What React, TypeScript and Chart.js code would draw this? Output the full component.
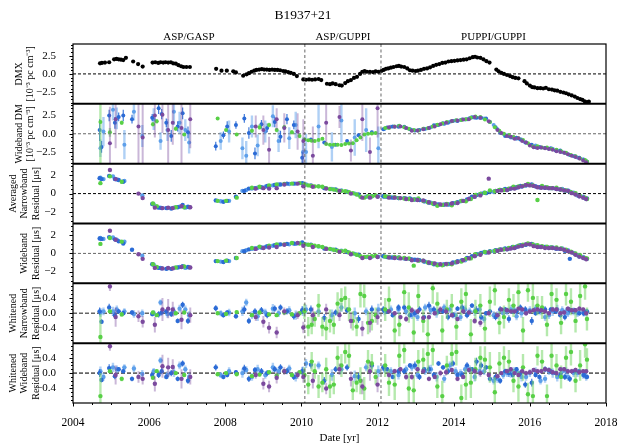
import { useEffect, useRef } from 'react';
import { Chart, registerables } from 'chart.js';

Chart.register(...registerables);

const FONT = '"Liberation Serif", "Times New Roman", serif';

// ---------- axes / labels ----------
const xTicks = [2004, 2006, 2008, 2010, 2012, 2014, 2016, 2018];
const eraBounds = [2004, 2010.09, 2012.09, 2018];
const eraLabels = ['ASP/GASP', 'ASP/GUPPI', 'PUPPI/GUPPI'];
const titleText = 'B1937+21';

// ---------- panel 1: DMX ----------
const dmxDates = [
  2004.71, 2004.76, 2004.84, 2004.95, 2005.08, 2005.14, 2005.2, 2005.26, 2005.32, 2005.39, 2005.58, 2005.71, 2005.83,
  2006.09, 2006.16, 2006.24, 2006.3, 2006.37, 2006.43, 2006.5, 2006.57, 2006.63, 2006.7, 2006.77, 2006.84, 2006.9, 2006.98, 2007.07,
  2007.76, 2007.9, 2008.04, 2008.21, 2008.28,
  2008.47, 2008.56, 2008.62, 2008.69, 2008.76, 2008.82, 2008.89, 2008.96, 2009.02, 2009.09, 2009.16, 2009.23, 2009.3, 2009.37, 2009.44, 2009.52, 2009.58, 2009.65, 2009.72, 2009.8, 2009.88,
  2010.05, 2010.12, 2010.2, 2010.28, 2010.36, 2010.45, 2010.52, 2010.67, 2010.75, 2010.82, 2010.9, 2011.0, 2011.06, 2011.15, 2011.22, 2011.3, 2011.38, 2011.46, 2011.54, 2011.6, 2011.66, 2011.72, 2011.8, 2011.88, 2011.95, 2012.02,
  2012.1, 2012.16, 2012.22, 2012.28, 2012.35, 2012.42, 2012.5, 2012.56, 2012.62, 2012.7, 2012.78, 2012.85, 2012.92, 2013.0, 2013.06, 2013.14, 2013.22, 2013.3, 2013.38, 2013.46, 2013.54, 2013.62, 2013.7, 2013.78, 2013.86, 2013.94, 2014.02, 2014.1, 2014.18, 2014.26, 2014.34, 2014.42, 2014.5, 2014.56, 2014.62, 2014.7, 2014.78, 2014.86, 2014.94,
  2015.12, 2015.18, 2015.25, 2015.32, 2015.4, 2015.48, 2015.55, 2015.62, 2015.7,
  2015.86, 2015.92, 2016.0, 2016.06, 2016.12, 2016.2, 2016.28, 2016.35, 2016.42, 2016.5, 2016.58, 2016.65, 2016.72, 2016.8, 2016.88, 2016.95, 2017.02, 2017.1, 2017.18, 2017.25, 2017.32, 2017.38, 2017.44, 2017.5, 2017.55,
];
const dmxValues = [
  1.45, 1.5, 1.55, 1.6, 2.0, 2.05, 2.0, 1.95, 1.9, 2.2, 1.7, 1.35, 1.0,
  1.55, 1.6, 1.5, 1.6, 1.55, 1.6, 1.55, 1.6, 1.45, 1.4, 1.2, 1.05, 0.95, 0.95, 0.95,
  0.7, 0.45, 0.45, 0.35, 0.2,
  -0.25, -0.05, 0.1, 0.3, 0.45, 0.55, 0.6, 0.65, 0.6, 0.6, 0.55, 0.6, 0.55, 0.55, 0.5, 0.4, 0.35, 0.25, 0.15, 0.0, -0.3,
  -0.75, -0.8, -0.75, -0.8, -0.75, -0.7, -0.85, -1.35, -1.4, -1.3, -1.4, -1.55, -1.6, -1.25, -1.0, -0.85, -0.55, -0.4, 0.0, 0.3, 0.4, 0.3, 0.3, 0.25, 0.35, 0.3,
  0.4, 0.55, 0.7, 0.75, 0.85, 0.95, 1.05, 1.1, 1.0, 0.95, 0.75, 0.5, 0.45, 0.4, 0.45, 0.55, 0.7, 0.75, 0.9, 1.1, 1.25, 1.35, 1.5, 1.55, 1.7, 1.75, 1.8, 1.85, 1.9, 1.95, 2.0, 2.15, 2.3, 2.35, 2.25, 2.2, 2.0, 1.75, 1.55,
  0.6, 0.35, 0.15, 0.0, -0.15, -0.3, -0.45, -0.55, -0.6,
  -1.0, -1.3, -1.6, -1.8, -1.85, -1.95, -1.95, -2.0, -1.9, -2.1, -2.15, -2.25, -2.3, -2.45, -2.55, -2.65, -2.8, -2.95, -3.1, -3.3, -3.45, -3.55, -3.75, -3.85, -3.8,
];

// ---------- green receiver ----------
const greenDates = [
  2004.72, 2004.97, 2005.28, 2006.1, 2006.2, 2006.7, 2006.92, 2007.8, 2008.02, 2008.3, 2008.7, 2008.9, 2009.15, 2009.35, 2009.55, 2009.75, 2009.95,
  2010.18, 2010.35, 2010.55, 2010.75, 2010.95, 2011.15, 2011.35, 2011.55, 2011.75, 2011.95,
  2012.2, 2012.45, 2012.7, 2012.95, 2013.2, 2013.45, 2013.7, 2013.95, 2014.2, 2014.45, 2014.7, 2014.95, 2015.2, 2015.45, 2015.7, 2015.95, 2016.2, 2016.45, 2016.7, 2016.95, 2017.2, 2017.45,
  2010.08, 2010.27, 2010.45, 2010.65, 2010.85, 2011.05, 2011.25, 2011.45, 2011.65, 2011.85,
  2012.3, 2012.57, 2012.82, 2013.07, 2013.32, 2013.57, 2013.82, 2014.07, 2014.32, 2014.57, 2014.82, 2015.08, 2015.32, 2015.57, 2015.82, 2016.08, 2016.32, 2016.57, 2016.82, 2017.08, 2017.32, 2017.5,
];
const greenWbDm = [
  1.6, 0.2, 1.5, 1.3, 1.7, 0.7, -0.1, 2.1, 0.5, -0.1, 0.4, 0.9, 1.2, 0.5, 0.9, 0.2, -0.3,
  -0.9, -1.0, -0.7, -1.5, -1.5, -1.4, -1.3, -0.5, 0.0, 0.1,
  0.8, 1.0, 0.9, 0.5, 0.7, 1.0, 1.4, 1.7, 1.9, 2.2, 2.3, 1.6, 0.4, -0.2, -0.6, -1.3, -1.7, -1.9, -2.2, -2.6, -3.1, -3.6,
  -0.8, -0.95, -0.85, -1.4, -1.5, -1.55, -1.35, -0.9, -0.1, 0.05,
  0.8, 1.1, 0.7, 0.45, 0.75, 1.25, 1.6, 1.85, 2.0, 2.35, 1.95, 0.9, 0.0, -0.45, -0.85, -1.75, -1.9, -2.1, -2.4, -2.9, -3.4, -3.8,
];
const greenWbDmErr = [
  6, 0.6, 0.3, 0.3, 0.3, 0.3, 0.2, 0.2, 0.2, 0.2, 0.3, 0.4, 0.3, 0.3, 0.3, 0.3, 0.3,
  0.15, 0.15, 0.2, 0.15, 0.15, 0.15, 0.2, 0.15, 0.15, 0.15,
  0.1, 0.1, 0.12, 0.1, 0.1, 0.1, 0.12, 0.1, 0.1, 0.1, 0.12, 0.1, 0.1, 0.1, 0.1, 0.12, 0.1, 0.1, 0.1, 0.12, 0.1, 0.1,
  0.15, 0.15, 0.15, 0.2, 0.15, 0.15, 0.15, 0.2, 0.15, 0.15,
  0.1, 0.1, 0.1, 0.12, 0.1, 0.1, 0.1, 0.1, 0.12, 0.1, 0.1, 0.1, 0.1, 0.1, 0.12, 0.1, 0.1, 0.1, 0.1, 0.1, 0.12, 0.1,
];
const greenNbRes = [
  1.15, 1.9, 1.3, -1.1, -1.4, -1.5, -1.5, -0.8, -0.8, -0.45, 0.65, 0.75, 0.9, 1.0, 1.05, 1.1, 1.15,
  0.9, 0.8, 0.75, 0.5, 0.35, 0.25, 0.05, -0.35, -0.3, -0.2,
  -0.3, -0.4, -0.55, -0.65, -0.8, -1.1, -1.25, -1.3, -0.8, -0.6, -0.05, 0.35, 0.4, 0.55, 0.8, 1.05, -0.7, 0.7, 0.65, 0.35, 0.05, -0.45,
  1.0, 0.85, 0.8, 0.6, 0.45, 0.3, 0.15, -0.1, -0.45, -0.3,
  -0.35, -0.5, -0.6, -0.55, -0.95, -1.35, -1.15, -1.0, -0.85, -0.15, 0.1, 0.25, 0.4, 0.75, 0.85, 0.9, 0.85, 0.6, 0.45, 0.15, -0.25, -0.6,
];
const greenWbRes = [
  1.05, 1.7, 1.3, -1.2, -1.5, -1.55, -1.45, -0.85, -0.8, -0.5, 0.6, 0.75, 0.85, 1.0, 1.0, 1.15, 1.1,
  0.95, 0.85, 0.7, 0.5, 0.3, 0.3, 0.0, -0.3, -0.35, -0.25,
  -0.35, -0.4, -0.5, -1.35, -0.8, -1.1, -1.3, -1.2, -0.9, -0.55, -0.1, 0.2, 0.4, 0.6, 0.85, 1.1, 0.9, 0.75, 0.65, 0.4, 0.0, -0.5,
  1.0, 0.9, 0.8, 0.55, 0.4, 0.25, 0.1, -0.15, -0.4, -0.3,
  -0.4, -0.45, -0.55, -0.8, -1.0, -1.3, -1.2, -0.95, -0.6, -0.1, 0.15, 0.3, 0.45, 0.7, 0.95, 1.0, 0.8, 0.65, 0.55, 0.2, -0.2, -0.55,
];
const greenWhNb = [
  -0.62, 0.05, -0.03, 0.02, -0.05, 0.0, 0.02, 0.0, -0.02, 0.03, -0.05, 0.02, -0.03, -0.05, 0.02, -0.03, 0.0,
  -0.35, -0.15, -0.35, -0.2, 0.25, 0.4, -0.2, 0.5, -0.25, -0.05,
  0.1, -0.45, 0.55, -0.5, -0.2, 0.65, -0.45, 0.2, 0.3, -0.55, 0.2, 0.3, -0.25, 0.35, 0.55, 0.6, 0.2, -0.3, 0.35, 0.5, -0.2, 0.7,
  0.05, -0.3, 0.2, -0.4, -0.3, 0.35, 0.1, -0.35, 0.45, -0.2,
  0.35, -0.3, 0.15, 0.45, -0.55, 0.25, 0.1, -0.35, 0.5, 0.05, -0.4, 0.6, -0.1, 0.2, -0.45, 0.4, 0.15, 0.5, -0.25, 0.3, 0.45, -0.15,
];
const greenWhWb = [
  -0.6, 0.05, -0.15, -0.12, 0.05, 0.0, -0.05, -0.03, 0.0, -0.03, -0.08, -0.04, 0.02, -0.06, 0.05, -0.05, 0.02,
  -0.3, 0.05, -0.25, -0.35, 0.4, 0.55, -0.45, -0.2, 0.3, -0.1,
  0.2, -0.3, 0.6, -0.45, 0.35, 0.6, -0.6, 0.5, -0.65, -0.25, 0.4, 0.15, 0.25, 0.3, -0.35, -0.55, 0.45, -0.6, 0.2, 0.4, -0.2, 0.75,
  -0.05, 0.3, -0.35, 0.1, -0.3, 0.2, 0.45, -0.25, -0.4, 0.25,
  -0.25, 0.45, -0.4, 0.3, 0.5, -0.35, 0.2, 0.55, -0.3, 0.1, 0.35, -0.5, 0.4, -0.2, 0.15, -0.6, 0.3, 0.45, -0.1, 0.55, 0.2, 0.35,
];
const greenWhErr = [
  0.6, 0.05, 0.06, 0.04, 0.04, 0.04, 0.04, 0.04, 0.04, 0.04, 0.05, 0.05, 0.05, 0.05, 0.05, 0.05, 0.05,
  0.25, 0.2, 0.25, 0.3, 0.3, 0.3, 0.25, 0.35, 0.3, 0.2,
  0.3, 0.4, 0.35, 0.4, 0.3, 0.4, 0.4, 0.3, 0.35, 0.4, 0.3, 0.4, 0.3, 0.3, 0.4, 0.3, 0.25, 0.3, 0.3, 0.3, 0.3, 0.35,
  0.2, 0.25, 0.3, 0.3, 0.25, 0.3, 0.3, 0.25, 0.3, 0.25,
  0.35, 0.3, 0.4, 0.3, 0.45, 0.3, 0.25, 0.35, 0.4, 0.3, 0.35, 0.4, 0.3, 0.3, 0.35, 0.4, 0.3, 0.35, 0.3, 0.35, 0.4, 0.3,
];
const greenResErr = 0.15;

// ---------- purple receiver ----------
const purpleDates = [
  2004.97, 2005.12, 2005.72, 2005.83, 2006.15, 2006.35, 2006.5, 2006.62, 2006.85, 2007.08, 2008.8, 2009.0, 2009.15, 2009.35, 2009.55, 2009.9, 2010.05,
  2010.3, 2010.65, 2011.0, 2011.3, 2011.6, 2011.8, 2012.0,
  2012.3, 2012.6, 2012.9, 2013.2, 2013.5, 2013.8, 2014.1, 2014.4, 2014.7, 2014.92, 2015.15, 2015.4, 2015.6, 2015.8, 2016.0, 2016.3, 2016.5, 2016.7, 2016.9, 2017.1, 2017.3, 2017.48,
  2012.45, 2012.75, 2013.05, 2013.35, 2013.65, 2013.95, 2014.25, 2014.55, 2015.25, 2015.5, 2015.7, 2015.9, 2016.1, 2016.2, 2016.4, 2016.6, 2016.8, 2017.0, 2017.2, 2017.4,
];
const purpleWbDm = [
  -1.3, 2.0, 1.0, -0.5, 2.5, 2.6, 0.5, 1.5, 0.8, 2.0, 1.0, 0.5, -2.2, 2.0, 0.8, 0.3, -1.0,
  -3.0, 1.5, 2.3, -2.3, 2.0, -2.5, 3.5,
  0.9, 1.0, 0.4, 0.6, 1.0, 1.5, 1.8, 2.0, 2.2, 1.7, 0.5, -0.3, -0.7, -1.0, -1.6, -1.9, -2.1, -2.4, -2.6, -3.0, -3.4, -3.9,
  0.95, 0.8, 0.45, 0.8, 1.3, 1.75, 1.95, 2.3, 0.1, -0.4, -0.6, -1.2, -1.85, -1.95, -2.0, -2.2, -2.5, -2.8, -3.2, -3.65,
];
const purpleWbDmErr = [
  5, 4, 6, 5, 3, 2.5, 6, 3, 5, 4, 1.5, 2, 1.8, 1.5, 2, 2.5, 3,
  4, 3, 1.5, 1.5, 3, 2, 4,
  0.1, 0.1, 0.1, 0.12, 0.1, 0.1, 0.1, 0.1, 0.12, 0.1, 0.1, 0.1, 0.1, 0.12, 0.1, 0.1, 0.1, 0.1, 0.12, 0.1, 0.1, 0.1,
  0.1, 0.1, 0.12, 0.1, 0.1, 0.1, 0.1, 0.12, 0.1, 0.1, 0.1, 0.1, 0.12, 0.1, 0.1, 0.1, 0.1, 0.12, 0.1, 0.1,
];
const purpleNbRes = [
  2.6, 1.6, 0.0, -0.5, -1.55, -1.6, -1.55, -1.6, -1.4, -1.5, 0.55, 0.6, 0.55, 0.6, 1.0, 1.1, 0.8,
  0.75, 0.55, 0.3, 0.0, -0.45, -0.45, -0.35,
  -0.45, -0.5, -0.7, -0.75, -1.05, -1.2, -1.05, -0.6, -0.2, 1.65, 0.3, 0.4, 0.55, 0.8, 0.9, 0.65, 0.6, 0.5, 0.35, 0.05, -0.3, -0.6,
  -0.45, -0.6, -0.7, -0.95, -1.2, -1.1, -0.8, -0.35, 0.35, 0.55, 0.7, 0.95, 0.85, 0.7, 0.65, 0.6, 0.45, 0.3, -0.1, -0.45,
];
const purpleWbRes = [
  2.5, 1.5, -0.1, -0.6, -1.6, -1.65, -1.6, -1.65, -1.5, -1.55, 0.5, 0.6, 0.65, 0.7, 0.95, 1.15, 0.85,
  0.7, 0.5, 0.2, -0.1, -0.5, -0.5, -0.4,
  -0.45, -0.55, -0.75, -0.8, -1.1, -1.15, -0.95, -0.55, -0.15, 0.1, 0.3, 0.45, 0.6, 0.85, 1.0, 0.7, 0.6, 0.55, 0.4, 0.1, -0.35, -0.65,
  -0.5, -0.6, -0.75, -1.0, -1.2, -1.1, -0.75, -0.3, 0.4, 0.55, 0.75, 1.0, 0.8, 0.7, 0.6, 0.6, 0.5, 0.25, -0.15, -0.5,
];
const purpleWhNb = [
  0.7, -0.1, -0.08, -0.22, -0.3, 0.1, 0.12, 0.1, -0.17, -0.05, -0.1, -0.22, -0.38, -0.5, 0.05, -0.05, -0.37,
  -0.05, 0.1, -0.05, -0.2, -0.4, -0.25, -0.1,
  0.05, -0.1, 0.08, -0.12, 0.0, 0.05, -0.15, 0.02, -0.25, 0.0, -0.05, 0.08, 0.05, 0.1, 0.05, 0.08, 0.0, 0.1, 0.02, 0.08, 0.12, 0.0,
  0.0, -0.15, 0.05, -0.1, 0.1, -0.05, 0.05, -0.2, 0.1, 0.05, 0.12, 0.0, 0.08, 0.1, 0.05, 0.1, 0.0, 0.12, 0.08, 0.1,
];
const purpleWhWb = [
  0.7, -0.05, -0.1, -0.15, -0.28, 0.18, 0.15, 0.16, -0.15, -0.1, -0.05, -0.28, -0.35, -0.12, 0.05, -0.05, -0.1,
  -0.2, -0.4, 0.1, -0.15, -0.35, 0.05, -0.3,
  -0.05, 0.1, -0.1, 0.05, -0.1, 0.02, -0.15, 0.08, 0.0, -0.05, -0.08, 0.05, 0.0, 0.05, 0.02, 0.05, 0.08, 0.0, 0.1, 0.05, 0.02, 0.05,
  0.05, -0.1, 0.1, -0.15, 0.0, 0.08, -0.1, 0.05, 0.0, 0.1, -0.05, 0.0, 0.08, 0.05, 0.1, 0.02, 0.1, 0.05, 0.08, 0.05,
];
const purpleWhErr = [
  0.12, 0.25, 0.15, 0.15, 0.2, 0.3, 0.25, 0.2, 0.25, 0.2, 0.1, 0.15, 0.15, 0.15, 0.1, 0.1, 0.15,
  0.2, 0.15, 0.15, 0.2, 0.2, 0.25, 0.2,
  0.06, 0.06, 0.08, 0.06, 0.06, 0.08, 0.06, 0.06, 0.1, 0.06, 0.06, 0.06, 0.05, 0.06, 0.05, 0.06, 0.05, 0.06, 0.05, 0.06, 0.06, 0.05,
  0.06, 0.08, 0.06, 0.06, 0.08, 0.06, 0.06, 0.08, 0.05, 0.06, 0.05, 0.06, 0.05, 0.06, 0.05, 0.06, 0.05, 0.06, 0.06, 0.05,
];
const purpleResErr = 0.12;

// ---------- dark blue receiver ----------
const blueDates = [
  2004.7, 2004.75, 2004.95, 2005.1, 2005.2, 2005.32, 2005.55, 2006.08, 2006.25, 2006.33, 2006.45, 2006.58, 2006.75, 2006.88, 2007.02, 2007.75, 2007.95, 2008.05, 2008.28, 2008.5, 2008.62, 2008.78, 2008.95, 2009.1, 2009.3, 2009.45, 2009.62, 2009.8, 2010.02,
  2010.25, 2010.6, 2010.9, 2011.2, 2011.5, 2011.85,
  2012.25, 2012.55, 2012.85, 2013.1, 2013.35, 2013.6, 2013.85, 2014.1, 2014.35, 2014.6, 2014.85, 2015.1, 2015.35, 2015.55, 2015.75, 2016.05, 2016.25, 2016.55, 2016.8, 2017.05, 2017.3, 2017.5,
  2012.15, 2012.4, 2012.7, 2012.98, 2013.22, 2013.48, 2013.72, 2013.98, 2014.22, 2014.48, 2014.72, 2014.95, 2015.22, 2015.45, 2015.65, 2015.88, 2016.15, 2016.4, 2016.68, 2016.92, 2017.18, 2017.42,
];
const blueWbDm = [
  0.5, -1.8, 2.5, 1.5, 2.3, 2.5, 2.0, 2.2, 3.5, 2.7, 1.5, -0.3, 1.0, 2.8, 0.2, -1.7, -0.2, 1.0, 1.2, 2.1, 0.1, -2.7, 1.3, 0.8, 1.6, -0.4, 2.0, 1.2, -3.3,
  -0.8, -1.2, -1.5, -1.0, -0.2, 0.2,
  0.85, 0.95, 0.6, 0.5, 0.8, 1.2, 1.5, 1.75, 2.0, 2.2, 2.1, 0.9, -0.3, -0.5, -0.8, -1.5, -1.8, -2.0, -2.3, -2.9, -3.3, -3.8,
  0.6, 1.0, 0.95, 0.45, 0.7, 1.15, 1.45, 1.75, 1.95, 2.25, 2.2, 1.6, 0.15, -0.35, -0.55, -1.2, -1.85, -1.95, -2.3, -2.6, -3.1, -3.6,
];
const blueWbDmErr = [
  1.5, 0.8, 0.8, 0.8, 0.6, 0.8, 0.6, 0.5, 0.8, 0.7, 0.6, 0.8, 0.7, 0.8, 0.8, 0.6, 0.5, 0.7, 0.5, 0.6, 0.8, 0.8, 0.6, 0.6, 0.7, 0.8, 0.7, 0.6, 0.8,
  0.2, 0.2, 0.15, 0.2, 0.25, 0.2,
  0.08, 0.08, 0.1, 0.08, 0.08, 0.08, 0.1, 0.08, 0.08, 0.08, 0.08, 0.1, 0.08, 0.08, 0.08, 0.1, 0.08, 0.08, 0.08, 0.08, 0.1, 0.08,
  0.08, 0.1, 0.08, 0.08, 0.08, 0.1, 0.08, 0.08, 0.08, 0.1, 0.08, 0.08, 0.08, 0.08, 0.1, 0.08, 0.08, 0.08, 0.1, 0.08, 0.08, 0.08,
];
const blueNbRes = [
  1.7, 1.6, 1.95, 1.6, 1.5, 1.3, null, -1.15, -1.55, -1.6, -1.6, -1.65, -1.5, -1.25, -1.45, -0.75, -0.9, -0.8, -0.35, 0.3, 0.55, 0.6, 0.7, 0.85, 0.95, 1.0, 1.1, 1.1, 1.15,
  0.9, 0.6, 0.45, 0.2, -0.1, -0.3,
  -0.35, -0.5, -0.55, -0.7, -1.0, -1.2, -1.2, -0.95, -0.65, -0.15, 0.05, 0.3, 0.5, 0.65, 0.85, 1.0, 0.7, 0.6, 0.45, 0.2, -0.3, -0.55,
  -0.3, -0.45, -0.5, -0.65, -0.85, -1.15, -1.25, -1.05, -0.8, -0.35, 0.0, 0.2, 0.4, 0.5, 0.7, 0.9, 0.8, 0.65, 0.55, 0.35, 0.0, -0.45,
];
const blueWbRes = [
  1.65, 1.6, 1.8, 1.55, 1.35, 1.1, 0.4, -1.2, -1.6, -1.65, -1.7, -1.7, -1.55, -1.4, -1.5, -0.85, -0.95, -0.8, -0.5, 0.25, 0.45, 0.55, 0.65, 0.8, 0.9, 1.0, 1.05, 1.1, 1.2,
  0.95, 0.55, 0.4, 0.15, -0.15, -0.35,
  -0.4, -0.5, -0.6, -0.75, -1.05, -1.25, -1.15, -0.85, -0.5, -0.1, 0.1, 0.35, 0.55, 0.7, 0.9, 1.05, 0.75, 0.65, 0.5, -0.6, -0.35, -0.6,
  -0.3, -0.45, -0.55, -0.7, -0.9, -1.2, -1.25, -1.0, -0.75, -0.3, 0.05, 0.25, 0.45, 0.55, 0.75, 0.95, 0.85, 0.7, 0.55, 0.3, -0.05, -0.5,
];
const blueWhNb = [
  0.05, -0.22, 0.15, -0.05, 0.05, 0.0, 0.02, -0.02, -0.03, 0.02, 0.05, -0.02, -0.2, 0.22, -0.2, 0.13, -0.05, 0.02, -0.08, 0.1, -0.2, 0.05, 0.08, -0.05, 0.12, 0.15, 0.05, -0.08, 0.08,
  0.1, -0.12, 0.02, 0.08, -0.15, 0.1,
  0.05, 0.15, -0.05, 0.1, 0.2, 0.05, -0.1, 0.12, -0.05, 0.08, 0.0, -0.1, 0.1, 0.05, 0.15, -0.2, 0.05, 0.1, -0.05, 0.08, 0.0, 0.05,
  0.1, -0.05, 0.15, 0.0, -0.1, 0.1, 0.05, -0.05, 0.15, 0.2, -0.1, 0.05, 0.1, -0.15, 0.05, 0.1, 0.0, 0.1, 0.05, -0.1, 0.08, 0.0,
];
const blueWhWb = [
  0.0, -0.18, 0.13, -0.08, 0.1, 0.05, -0.15, -0.05, -0.05, 0.05, -0.1, 0.0, -0.15, 0.25, -0.2, 0.15, -0.1, -0.05, 0.02, 0.12, -0.15, 0.08, 0.05, 0.0, 0.1, 0.15, 0.05, -0.1, 0.05,
  0.22, -0.2, 0.1, 0.15, -0.1, 0.2,
  0.1, 0.05, 0.2, -0.1, 0.1, 0.25, 0.05, -0.05, 0.2, 0.3, 0.15, -0.1, 0.05, -0.05, 0.0, -0.25, -0.1, 0.05, -0.05, -0.15, 0.05, -0.1,
  0.15, -0.1, 0.05, 0.2, 0.1, -0.05, 0.15, 0.25, -0.05, 0.1, 0.2, -0.15, -0.2, 0.0, 0.1, -0.3, -0.05, 0.1, 0.0, -0.1, 0.05, -0.05,
];
const blueWhErr = [
  0.1, 0.06, 0.1, 0.08, 0.06, 0.06, 0.06, 0.06, 0.08, 0.08, 0.06, 0.08, 0.06, 0.08, 0.08, 0.08, 0.06, 0.06, 0.06, 0.1, 0.08, 0.08, 0.08, 0.08, 0.08, 0.08, 0.08, 0.08, 0.1,
  0.1, 0.1, 0.08, 0.08, 0.1, 0.1,
  0.06, 0.08, 0.06, 0.08, 0.1, 0.06, 0.08, 0.06, 0.08, 0.1, 0.06, 0.08, 0.06, 0.06, 0.08, 0.1, 0.06, 0.06, 0.06, 0.08, 0.06, 0.06,
  0.08, 0.06, 0.08, 0.1, 0.06, 0.08, 0.06, 0.08, 0.1, 0.06, 0.08, 0.06, 0.08, 0.1, 0.06, 0.08, 0.06, 0.08, 0.06, 0.08, 0.06, 0.08,
];
const blueResErr = 0.1;

// ---------- light blue receiver ----------
const lightDates = [
  2004.72, 2004.8, 2005.05, 2005.15, 2005.35, 2005.6, 2005.82, 2006.12, 2006.3, 2006.48, 2006.65, 2006.8, 2006.95, 2007.05, 2007.88, 2008.1, 2008.45, 2008.55, 2008.7, 2008.85, 2009.05, 2009.25, 2009.4, 2009.68, 2009.85, 2010.04,
  2010.12, 2010.45, 2010.8, 2011.05, 2011.4, 2011.7, 2012.02,
  2012.35, 2012.75, 2013.05, 2013.4, 2013.75, 2014.05, 2014.3, 2014.55, 2014.8, 2015.05, 2015.3, 2015.5, 2015.65, 2015.9, 2016.15, 2016.4, 2016.6, 2016.85, 2017.0, 2017.15, 2017.4,
  2012.18, 2012.55, 2012.9, 2013.25, 2013.55, 2013.9, 2014.18, 2014.42, 2014.68, 2015.15, 2015.4, 2015.58, 2015.78, 2016.0, 2016.28, 2016.5, 2016.72, 2016.95, 2017.25, 2017.48,
];
const lightWbDm = [
  -2.0, 0.3, 3.3, 2.1, -1.5, 3.0, -0.3, 2.0, -1.0, 0.5, 3.0, 1.5, 0.5, -1.2, -1.0, 0.3, -2.0, -3.0, 1.0, -1.6, 0.3, 2.4, -1.0, -0.6, 1.2, -2.5,
  -2.5, 1.0, -1.8, 1.8, -0.5, 0.5, -2.0,
  0.95, 0.8, 0.45, 0.9, 1.35, 1.8, 1.95, 2.2, 2.1, 1.2, 0.0, -0.5, -0.7, -1.2, -1.6, -1.95, -2.05, -2.5, -2.8, -3.1, -3.5,
  0.65, 1.05, 0.5, 0.65, 1.2, 1.65, 1.9, 2.15, 2.2, 0.6, -0.2, -0.5, -0.8, -1.5, -1.9, -2.05, -2.3, -2.65, -3.25, -3.8,
];
const lightWbDmErr = [
  1.2, 2, 1.5, 1.5, 2, 1.2, 1.5, 1.5, 1.2, 1.5, 1.8, 1.5, 1.5, 1.5, 1.2, 1.5, 1.5, 2, 1.5, 1.5, 1.5, 1.5, 1.5, 1.5, 1.8, 2,
  2.5, 3, 2, 3, 2.5, 3, 3,
  0.1, 0.1, 0.12, 0.1, 0.1, 0.1, 0.12, 0.1, 0.1, 0.1, 0.12, 0.1, 0.1, 0.1, 0.1, 0.12, 0.1, 0.1, 0.1, 0.1, 0.12,
  0.1, 0.12, 0.1, 0.1, 0.1, 0.12, 0.1, 0.1, 0.1, 0.12, 0.1, 0.1, 0.1, 0.12, 0.1, 0.1, 0.1, 0.1, 0.12, 0.1,
];
const lightNbRes = [
  1.75, 1.6, 1.9, 1.55, 1.4, null, -0.2, -1.2, -1.55, -1.6, -1.55, -1.45, -1.55, -1.5, -0.85, -0.8, 0.3, 0.4, 0.55, 0.65, 0.75, 0.9, 1.0, 1.05, 1.1, 1.1,
  1.0, 0.8, 0.5, 0.35, 0.0, -0.35, -0.3,
  -0.4, -0.55, -0.65, -1.0, -1.2, -1.05, -0.8, -0.35, 0.1, 0.2, 0.4, 0.55, 0.65, 0.9, 0.8, 0.65, 0.6, 0.5, 0.35, 0.1, -0.35,
  -0.35, -0.5, -0.65, -0.85, -1.2, -1.2, -0.85, -0.55, -0.1, 0.3, 0.4, 0.6, 0.75, 0.95, 0.7, 0.6, 0.5, 0.3, -0.2, -0.6,
];
const lightWbRes = [
  1.7, 1.6, 1.75, 1.5, 1.3, null, -0.25, -1.25, -1.6, -1.65, -1.6, -1.5, -1.6, -1.55, -0.9, -0.85, 0.25, 0.35, 0.5, 0.6, 0.7, 0.85, 0.95, 1.0, 1.05, 1.1,
  1.0, 0.75, 0.45, 0.3, -0.05, -0.4, -0.35,
  -0.45, -0.6, -0.7, -1.05, -1.2, -1.0, -0.75, -0.3, 0.15, 0.25, 0.45, 0.6, 0.7, 0.95, 0.85, 0.7, 0.65, 0.55, 0.35, 0.05, -0.4,
  -0.35, -0.45, -0.65, -0.9, -1.2, -1.15, -0.85, -0.5, -0.05, 0.3, 0.45, 0.6, 0.8, 1.0, 0.7, 0.6, 0.5, 0.3, -0.2, -0.6,
];
const lightWhNb = [
  0.02, 0.05, 0.05, 0.1, 0.05, -0.02, 0.0, 0.0, 0.28, -0.02, 0.05, 0.12, 0.1, -0.05, 0.0, 0.02, 0.05, 0.28, -0.05, -0.08, 0.02, 0.12, 0.0, 0.08, -0.05, 0.05,
  0.1, 0.05, -0.05, 0.15, 0.0, 0.05, 0.1,
  0.1, 0.05, -0.1, 0.08, 0.15, -0.05, 0.1, 0.05, -0.15, -0.05, 0.0, 0.1, -0.08, 0.05, 0.12, -0.1, 0.05, 0.08, 0.0, 0.05, 0.02,
  0.05, 0.1, -0.05, 0.15, 0.0, 0.1, -0.1, 0.05, 0.1, -0.05, 0.05, 0.1, 0.0, 0.08, 0.05, -0.05, 0.1, 0.05, 0.0, 0.02,
];
const lightWhWb = [
  0.05, -0.1, 0.15, 0.1, 0.15, 0.12, -0.02, 0.05, 0.33, -0.05, 0.02, 0.2, 0.1, -0.1, -0.05, 0.05, 0.0, 0.08, -0.1, 0.1, -0.05, 0.15, 0.05, 0.12, -0.1, 0.05,
  0.25, 0.2, -0.05, 0.1, -0.08, 0.15, 0.05,
  0.05, 0.1, -0.05, 0.1, -0.15, 0.05, 0.1, -0.1, 0.05, -0.2, -0.05, 0.0, 0.05, -0.1, 0.05, -0.15, 0.0, 0.05, -0.1, 0.0, -0.05,
  0.1, -0.05, 0.15, 0.05, -0.1, 0.2, 0.0, 0.1, 0.05, -0.15, 0.0, 0.05, -0.1, 0.0, -0.2, 0.05, -0.1, 0.05, 0.0, -0.1,
];
const lightWhErr = [
  0.12, 0.1, 0.12, 0.1, 0.08, 0.1, 0.1, 0.08, 0.08, 0.1, 0.12, 0.1, 0.1, 0.1, 0.08, 0.1, 0.12, 0.1, 0.1, 0.12, 0.1, 0.12, 0.1, 0.1, 0.12, 0.12,
  0.12, 0.1, 0.15, 0.12, 0.15, 0.1, 0.15,
  0.1, 0.1, 0.1, 0.12, 0.1, 0.1, 0.1, 0.12, 0.1, 0.1, 0.1, 0.12, 0.1, 0.1, 0.1, 0.1, 0.12, 0.1, 0.1, 0.1, 0.1,
  0.1, 0.12, 0.1, 0.1, 0.12, 0.1, 0.1, 0.1, 0.12, 0.1, 0.1, 0.1, 0.12, 0.1, 0.1, 0.1, 0.12, 0.1, 0.1, 0.1,
];
const lightResErr = 0.12;

// ---------- styling ----------
const COLORS = {
  black: '#000000',
  green: '#58d046',
  greenErr: 'rgba(120, 215, 105, 0.55)',
  purple: '#7b4a9e',
  purpleErr: 'rgba(123, 74, 158, 0.4)',
  blue: '#2b6bd6',
  blueErr: 'rgba(43, 107, 214, 0.9)',
  light: '#5d9fea',
  lightErr: 'rgba(110, 170, 236, 0.55)',
};

const fmtMinus = (s: string) => s.replace('-', '\u2212');

type Panel = {
  id: string;
  title: string[];
  min: number;
  max: number;
  major: number[];
  minorStep: number;
  decimals: number;
  titlePad: number;
  zeroColor: string;
  zeroDash: number[];
  zeroWidth: number;
};

const panels: Panel[] = [
  { id: 'p1', title: ['DMX', '[10\u207B\u00B3 pc cm\u207B\u00B3]'], min: -4.1, max: 4.1, major: [-2.5, 0, 2.5], minorStep: 0.5, decimals: 1, titlePad: 13.5, zeroColor: '#000', zeroDash: [3, 2], zeroWidth: 1 },
  { id: 'p2', title: ['Wideband DM', '[10\u207B\u00B3 pc cm\u207B\u00B3]'], min: -4.1, max: 4.1, major: [-2.5, 0, 2.5], minorStep: 0.5, decimals: 1, titlePad: 13.5, zeroColor: '#555', zeroDash: [3, 2], zeroWidth: 0.9 },
  { id: 'p3', title: ['Averaged', 'Narrowband', 'Residual [\u03BCs]'], min: -3.3, max: 3.3, major: [-2, 0, 2], minorStep: 0.5, decimals: 0, titlePad: 7.5, zeroColor: '#000', zeroDash: [3, 2], zeroWidth: 1 },
  { id: 'p4', title: ['Wideband', 'Residual [\u03BCs]'], min: -3.3, max: 3.3, major: [-2, 0, 2], minorStep: 0.5, decimals: 0, titlePad: 19, zeroColor: '#555', zeroDash: [3, 2], zeroWidth: 0.9 },
  { id: 'p5', title: ['Whitened', 'Narrowband', 'Residual [\u03BCs]'], min: -0.78, max: 0.78, major: [-0.4, 0, 0.4], minorStep: 0.1, decimals: 1, titlePad: 7.5, zeroColor: '#666', zeroDash: [4, 2], zeroWidth: 1.6 },
  { id: 'p6', title: ['Whitened', 'Wideband', 'Residual [\u03BCs]'], min: -0.78, max: 0.78, major: [-0.4, 0, 0.4], minorStep: 0.1, decimals: 1, titlePad: 7.5, zeroColor: '#666', zeroDash: [4, 2], zeroWidth: 1.6 },
];

function series(
  label: string, dates: number[], vals: (number | null)[], errs: number[] | number | null,
  axis: string, color: string, errColor: string, errWidth: number, radius: number,
) {
  return {
    label,
    data: dates.map((x, i) => ({ x, y: vals[i] })),
    yAxisID: axis,
    xAxisID: 'x',
    errs,
    errColor,
    errWidth,
    showLine: false,
    pointRadius: radius,
    pointHoverRadius: radius,
    pointBackgroundColor: color,
    pointBorderColor: color,
    pointBorderWidth: 0,
  };
}

function buildDatasets() {
  const ds: any[] = [];
  ds.push(series('DMX', dmxDates, dmxValues, null, 'p1', COLORS.black, COLORS.black, 0, 2.1));
  const groups = [
    { name: 'purple', dates: purpleDates, dm: purpleWbDm, dmErr: purpleWbDmErr, nb: purpleNbRes, wb: purpleWbRes, resErr: purpleResErr, whNb: purpleWhNb, whWb: purpleWhWb, whErr: purpleWhErr, c: COLORS.purple, e: COLORS.purpleErr, w: 2 },
    { name: 'green', dates: greenDates, dm: greenWbDm, dmErr: greenWbDmErr, nb: greenNbRes, wb: greenWbRes, resErr: greenResErr, whNb: greenWhNb, whWb: greenWhWb, whErr: greenWhErr, c: COLORS.green, e: COLORS.greenErr, w: 2.4 },
    { name: 'blue', dates: blueDates, dm: blueWbDm, dmErr: blueWbDmErr, nb: blueNbRes, wb: blueWbRes, resErr: blueResErr, whNb: blueWhNb, whWb: blueWhWb, whErr: blueWhErr, c: COLORS.blue, e: COLORS.blueErr, w: 1.2 },
    { name: 'light', dates: lightDates, dm: lightWbDm, dmErr: lightWbDmErr, nb: lightNbRes, wb: lightWbRes, resErr: lightResErr, whNb: lightWhNb, whWb: lightWhWb, whErr: lightWhErr, c: COLORS.light, e: COLORS.lightErr, w: 2.4 },
  ];
  for (const g of groups) {
    ds.push(series(g.name + ' WB DM', g.dates, g.dm, g.dmErr, 'p2', g.c, g.e, g.w, 2));
    ds.push(series(g.name + ' NB res', g.dates, g.nb, g.resErr, 'p3', g.c, g.e, g.w, 2.2));
    ds.push(series(g.name + ' WB res', g.dates, g.wb, g.resErr, 'p4', g.c, g.e, g.w, 2.2));
    ds.push(series(g.name + ' WH NB', g.dates, g.whNb, g.whErr, 'p5', g.c, g.e, g.w, 2.2));
    ds.push(series(g.name + ' WH WB', g.dates, g.whWb, g.whErr, 'p6', g.c, g.e, g.w, 2.2));
  }
  return ds;
}

const framePlugin = {
  id: 'frame',
  beforeDatasetsDraw(chart: any) {
    const { ctx, chartArea: ca, scales } = chart;
    for (const p of panels) {
      const s = scales[p.id];
      const y = s.getPixelForValue(0);
      ctx.save();
      ctx.strokeStyle = p.zeroColor;
      ctx.lineWidth = p.zeroWidth;
      ctx.setLineDash(p.zeroDash);
      ctx.beginPath();
      ctx.moveTo(ca.left, y);
      ctx.lineTo(ca.right, y);
      ctx.stroke();
      ctx.restore();
    }
  },
  beforeDatasetDraw(chart: any, args: any) {
    const ds = chart.data.datasets[args.index];
    const ys = chart.scales[ds.yAxisID];
    const xs = chart.scales.x;
    const ca = chart.chartArea;
    const ctx = chart.ctx;
    ctx.save();
    ctx.beginPath();
    ctx.rect(ca.left, ys.top, ca.right - ca.left, ys.bottom - ys.top);
    ctx.clip();
    if (ds.errs != null) {
      ctx.strokeStyle = ds.errColor;
      ctx.lineWidth = ds.errWidth;
      ds.data.forEach((pt: any, i: number) => {
        if (pt.y == null) return;
        const e = Array.isArray(ds.errs) ? ds.errs[i] : ds.errs;
        const px = xs.getPixelForValue(pt.x);
        ctx.beginPath();
        ctx.moveTo(px, ys.getPixelForValue(pt.y - e));
        ctx.lineTo(px, ys.getPixelForValue(pt.y + e));
        ctx.stroke();
      });
    }
  },
  afterDatasetDraw(chart: any) {
    chart.ctx.restore();
  },
  afterDatasetsDraw(chart: any) {
    const { ctx, chartArea: ca, scales } = chart;
    const xs = scales.x;
    // era separators
    ctx.save();
    ctx.strokeStyle = '#555';
    ctx.lineWidth = 0.9;
    ctx.setLineDash([3, 2.5]);
    for (const b of eraBounds.slice(1, -1)) {
      const px = xs.getPixelForValue(b);
      ctx.beginPath();
      ctx.moveTo(px, ca.top);
      ctx.lineTo(px, ca.bottom);
      ctx.stroke();
    }
    ctx.restore();

    // panel frames
    ctx.save();
    ctx.strokeStyle = '#000';
    ctx.lineWidth = 1.2;
    ctx.strokeRect(ca.left, ca.top, ca.right - ca.left, ca.bottom - ca.top);
    ctx.lineWidth = 2;
    panels.slice(0, -1).forEach((p) => {
      const s = scales[p.id];
      ctx.beginPath();
      ctx.moveTo(ca.left, s.bottom);
      ctx.lineTo(ca.right, s.bottom);
      ctx.stroke();
    });

    // tick marks
    ctx.lineWidth = 1;
    for (const p of panels) {
      const s = scales[p.id];
      const start = Math.ceil(p.min / p.minorStep);
      const end = Math.floor(p.max / p.minorStep);
      for (let k = start; k <= end; k++) {
        const v = k * p.minorStep;
        const isMajor = p.major.some((m) => Math.abs(m - v) < 1e-6);
        const y = Math.round(s.getPixelForValue(v)) + 0.5;
        ctx.beginPath();
        ctx.moveTo(ca.left - (isMajor ? 3.5 : 2), y);
        ctx.lineTo(ca.left, y);
        ctx.stroke();
      }
    }
    for (let v = xTicks[0]; v <= xTicks[xTicks.length - 1] + 1e-6; v += 0.5) {
      const isMajor = xTicks.includes(v);
      const x = Math.round(xs.getPixelForValue(v)) + 0.5;
      ctx.beginPath();
      ctx.moveTo(x, ca.bottom);
      ctx.lineTo(x, ca.bottom + (isMajor ? 3.5 : 2));
      ctx.stroke();
    }

    // era labels
    ctx.fillStyle = '#000';
    ctx.font = `11px ${FONT}`;
    ctx.textAlign = 'center';
    ctx.textBaseline = 'middle';
    eraLabels.forEach((t, i) => {
      const cx = (xs.getPixelForValue(eraBounds[i]) + xs.getPixelForValue(eraBounds[i + 1])) / 2;
      ctx.fillText(t, cx, ca.top - 7);
    });
    ctx.restore();
  },
};

export default function App() {
  const ref = useRef<HTMLCanvasElement | null>(null);

  useEffect(() => {
    if (!ref.current) return;
    const scales: any = {
      x: {
        type: 'linear',
        position: 'bottom',
        min: xTicks[0],
        max: xTicks[xTicks.length - 1],
        afterBuildTicks: (s: any) => { s.ticks = xTicks.map((v) => ({ value: v })); },
        afterFit: (s: any) => { s.height = 43; },
        ticks: {
          callback: (v: any) => String(v),
          font: { family: FONT, size: 11.5 },
          color: '#000',
          padding: 5,
          maxRotation: 0,
          autoSkip: false,
        },
        grid: { display: false },
        border: { display: false },
        title: {
          display: true,
          text: 'Date [yr]',
          font: { family: FONT, size: 11 },
          color: '#000',
          padding: { top: 0, bottom: 1.5 },
        },
      },
    };
    panels.forEach((p, i) => {
      scales[p.id] = {
        type: 'linear',
        position: 'left',
        stack: 'panels',
        stackWeight: 1,
        weight: panels.length - i,
        min: p.min,
        max: p.max,
        afterBuildTicks: (s: any) => { s.ticks = p.major.map((v) => ({ value: v })); },
        afterFit: (s: any) => { s.width = 73; },
        ticks: {
          callback: (v: any) => fmtMinus(Number(v).toFixed(p.decimals)),
          font: { family: FONT, size: 11 },
          color: '#000',
          padding: 9,
          autoSkip: false,
        },
        grid: { display: false },
        border: { display: false },
        title: {
          display: true,
          text: p.title,
          font: { family: FONT, size: 10, lineHeight: 1.15 },
          color: '#000',
          padding: { top: p.titlePad, bottom: 0 },
        },
      };
    });

    const chart = new Chart(ref.current, {
      type: 'scatter',
      data: { datasets: buildDatasets() },
      options: {
        responsive: false,
        animation: false,
        devicePixelRatio: 1,
        layout: { padding: { left: 0, right: 19, top: 0, bottom: 0 } },
        scales,
        plugins: {
          legend: { display: false },
          tooltip: { enabled: false },
          title: {
            display: true,
            text: titleText,
            color: '#000',
            font: { family: FONT, size: 13.5, weight: 'normal', lineHeight: 1.2 },
            padding: { top: 7, bottom: 20.8 },
          },
        },
      } as any,
      plugins: [framePlugin as any],
    });
    return () => chart.destroy();
  }, []);

  return (
    <div style={{ position: 'fixed', left: 0, top: 0, width: 625, height: 446, background: '#fff' }}>
      <canvas ref={ref} width={625} height={446} style={{ display: 'block', width: 625, height: 446 }} />
    </div>
  );
}
